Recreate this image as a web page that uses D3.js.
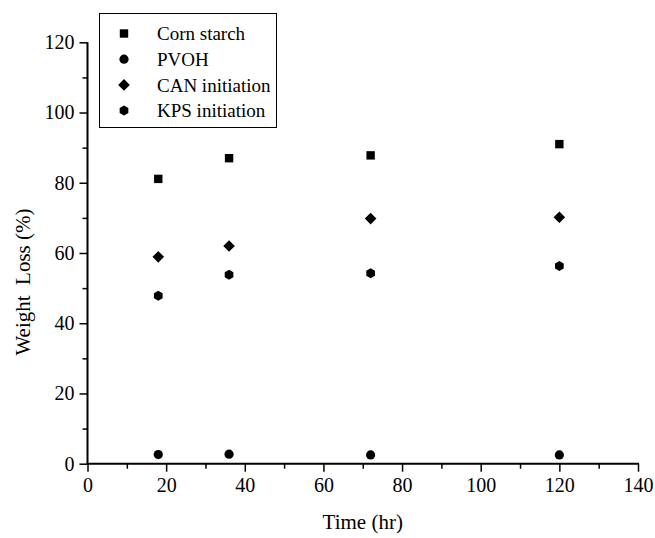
<!DOCTYPE html>
<html>
<head>
<meta charset="utf-8">
<script src="https://cdn.jsdelivr.net/npm/d3@7/dist/d3.min.js"></script>
<style>
  html, body { margin: 0; padding: 0; background: #fff; }
  svg { display: block; }
  text { font-family: "Liberation Serif", "Times New Roman", serif; fill: #000; }
</style>
</head>
<body>
<svg id="chart" width="655" height="538"></svg>
<script>
// ---- data ----
const times = [18, 36, 72, 120];
const cornStarch = [81.1, 87.0, 87.8, 91.0];
const pvoh = [2.6, 2.7, 2.5, 2.5];
const canInitiation = [58.9, 62.0, 69.8, 70.2];
const kpsInitiation = [47.8, 53.8, 54.2, 56.3];
const seriesNames = ["Corn starch", "PVOH", "CAN initiation", "KPS initiation"];
const xTicks = [0, 20, 40, 60, 80, 100, 120, 140];
const yTicks = [0, 20, 40, 60, 80, 100, 120];
const xTitle = "Time (hr)";
const yTitle = "Weight  Loss (%)";

const svg = d3.select("#chart");
const x = d3.scaleLinear().domain([0, 140]).range([87.5, 638]);
const y = d3.scaleLinear().domain([0, 120]).range([463.7, 42.3]);

const seriesValues = [cornStarch, pvoh, canInitiation, kpsInitiation];
const shapes = ["square", "circle", "diamond", "hexagon"];

function markerPath(shape) {
  if (shape === "square") return "M-4.2,-4.2H4.2V4.2H-4.2Z";
  if (shape === "diamond") return "M0,-5.8L5.8,0L0,5.8L-5.8,0Z";
  if (shape === "circle") return d3.symbol(d3.symbolCircle, Math.PI * 4.6 * 4.6)();
  const r = 5;
  const pts = d3.range(6).map(i => {
    const a = Math.PI / 2 + i * Math.PI / 3;
    return [r * Math.cos(a), r * Math.sin(a)];
  });
  return "M" + pts.map(p => p.join(",")).join("L") + "Z";
}

// ---- axes ----
const xAxis = d3.axisBottom(x).tickValues(xTicks).tickSize(8).tickPadding(6).tickFormat(d3.format("d"));
const xMinor = d3.axisBottom(x).tickValues(d3.range(10, 140, 20)).tickSize(5).tickFormat("");
const yAxis = d3.axisLeft(y).tickValues(yTicks).tickSize(8).tickPadding(5).tickFormat(d3.format("d"));
const yMinor = d3.axisLeft(y).tickValues(d3.range(10, 120, 20)).tickSize(5).tickFormat("");

function styleAxis(g) {
  g.select(".domain").remove();
  g.selectAll(".tick line").attr("stroke", "#000").attr("stroke-width", 1.5);
  g.selectAll(".tick text").style("font-size", "20px").attr("fill", "#000");
}

svg.append("g").attr("transform", `translate(0,${y(0)})`).call(xMinor).call(styleAxis);
svg.append("g").attr("transform", `translate(0,${y(0)})`).call(xAxis).call(styleAxis);
svg.append("g").attr("transform", `translate(${x(0)},0)`).call(yMinor).call(styleAxis);
svg.append("g").attr("transform", `translate(${x(0)},0)`).call(yAxis).call(styleAxis);
svg.append("line").attr("x1", x(0) - 1).attr("x2", x(140) + 1).attr("y1", y(0)).attr("y2", y(0)).attr("stroke", "#000").attr("stroke-width", 2);
svg.append("line").attr("x1", x(0)).attr("x2", x(0)).attr("y1", y(0)).attr("y2", y(120)).attr("stroke", "#000").attr("stroke-width", 2);

// ---- titles ----
svg.append("text").attr("x", (x(0) + x(140)) / 2).attr("y", 529)
  .attr("text-anchor", "middle").style("font-size", "21px").text(xTitle);
svg.append("text").attr("transform", `translate(30,${282}) rotate(-90)`)
  .attr("text-anchor", "middle").style("font-size", "21px").style("white-space", "pre").text(yTitle);

// ---- points ----
seriesValues.forEach((vals, si) => {
  svg.append("g").selectAll("path").data(vals).join("path")
    .attr("d", markerPath(shapes[si]))
    .attr("transform", (d, i) => `translate(${x(times[i])},${y(d)})`)
    .attr("fill", "#000");
});

// ---- legend ----
const legend = svg.append("g");
legend.append("rect").attr("x", 99.5).attr("y", 13.5).attr("width", 177).attr("height", 114)
  .attr("fill", "#fff").attr("stroke", "#000").attr("stroke-width", 1);
seriesNames.forEach((name, i) => {
  const cy = 33.5 + i * 25.7;
  legend.append("path").attr("d", markerPath(shapes[i])).attr("transform", `translate(124,${cy})`).attr("fill", "#000");
  legend.append("text").attr("x", 157).attr("y", cy).attr("dy", "0.35em").style("font-size", "19px").text(name);
});
</script>
</body>
</html>
